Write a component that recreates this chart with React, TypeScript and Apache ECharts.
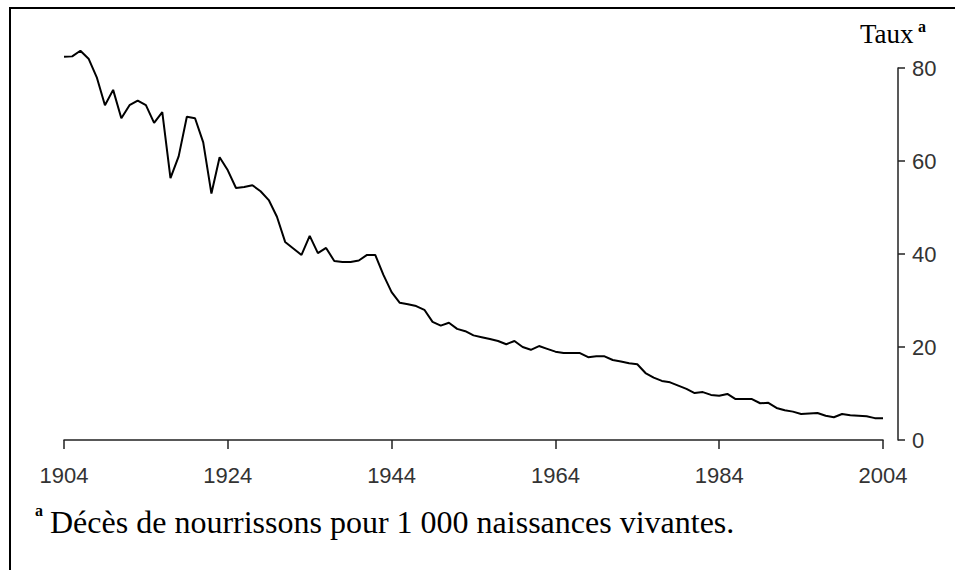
import React, { useEffect, useRef } from "react";
import * as echarts from "echarts";

const years: string[] = Array.from({ length: 101 }, (_, i) => String(1904 + i));

// Infant deaths per 1 000 live births, 1904–2004
const rates: number[] = [
  82.4, 82.5, 83.7, 82, 78, 72, 75.3, 69.2, 72, 73,
  72, 68.2, 70.5, 56.3, 61, 69.5, 69.2, 64, 53, 60.8,
  58, 54.2, 54.4, 54.8, 53.5, 51.6, 48, 42.6, 41.2, 39.8,
  43.9, 40.2, 41.3, 38.5, 38.3, 38.3, 38.6, 39.8, 39.8, 35.5,
  31.8, 29.5, 29.2, 28.8, 28, 25.4, 24.6, 25.2, 23.9, 23.4,
  22.5, 22.1, 21.7, 21.3, 20.6, 21.3, 20, 19.4, 20.2, 19.6,
  19, 18.7, 18.7, 18.7, 17.8, 18, 18, 17.2, 16.9, 16.5,
  16.3, 14.4, 13.4, 12.7, 12.4, 11.7, 11, 10.1, 10.3, 9.7,
  9.5, 9.9, 8.8, 8.8, 8.8, 7.9, 8, 6.9, 6.4, 6.1,
  5.6, 5.7, 5.8, 5.2, 4.9, 5.6, 5.3, 5.2, 5.1, 4.7,
  4.7,
];

const yAxisTitle = "Taux";
const footnote = "Décès de nourrissons pour 1 000 naissances vivantes.";

export default function App() {
  const ref = useRef<HTMLDivElement>(null);
  useEffect(() => {
    if (!ref.current) return;
    const chart = echarts.init(ref.current, null, { renderer: "svg" });
    const labelFont = "Liberation Sans";
    const serif = "Liberation Serif";
    chart.setOption({
      animation: false,
      backgroundColor: "#fff",
      grid: { left: 64, right: 72, top: 68, bottom: 130, outerBoundsMode: "none" },
      xAxis: {
        type: "category",
        data: years,
        boundaryGap: false,
        offset: 14,
        axisLine: { lineStyle: { color: "#222", width: 1.5 } },
        axisTick: { interval: 19, length: 9, lineStyle: { color: "#222", width: 1.5 } },
        axisLabel: {
          interval: 19,
          margin: 10,
          color: "#333",
          fontSize: 22,
          fontFamily: labelFont,
        },
        splitLine: { show: false },
      },
      yAxis: {
        type: "value",
        position: "right",
        min: 0,
        max: 80,
        interval: 20,
        offset: 15,
        axisLine: { show: true, lineStyle: { color: "#222", width: 1.5 } },
        axisTick: { show: true, length: 7, lineStyle: { color: "#222", width: 1.5 } },
        axisLabel: {
          margin: 14,
          color: "#333",
          fontSize: 22,
          fontFamily: labelFont,
        },
        splitLine: { show: false },
      },
      series: [
        {
          type: "line",
          data: rates,
          clip: false,
          showSymbol: false,
          symbol: "none",
          lineStyle: { color: "#000", width: 2 },
        },
      ],
      graphic: [
        { type: "rect", shape: { x: 9, y: 7, width: 946, height: 2 }, style: { fill: "#000" } },
        { type: "rect", shape: { x: 9, y: 7, width: 2, height: 563 }, style: { fill: "#000" } },
        {
          type: "text",
          x: 860,
          y: 47,
          style: {
            text: yAxisTitle,
            fontSize: 27,
            fontFamily: serif,
            fill: "#000",
            verticalAlign: "bottom",
          },
        },
        {
          type: "text",
          x: 918,
          y: 34,
          style: {
            text: "a",
            fontSize: 16,
            fontWeight: "bold",
            fontFamily: serif,
            fill: "#000",
            verticalAlign: "bottom",
          },
        },
        {
          type: "text",
          x: 35,
          y: 518,
          style: {
            text: "a",
            fontSize: 16,
            fontWeight: "bold",
            fontFamily: serif,
            fill: "#000",
            verticalAlign: "bottom",
          },
        },
        {
          type: "text",
          x: 50,
          y: 538,
          style: {
            text: footnote,
            fontSize: 32,
            fontFamily: serif,
            fill: "#000",
            verticalAlign: "bottom",
          },
        },
      ],
    });
    return () => chart.dispose();
  }, []);
  return (
    <div
      ref={ref}
      style={{ position: "fixed", left: 0, top: 0, width: 955, height: 570 }}
    />
  );
}
